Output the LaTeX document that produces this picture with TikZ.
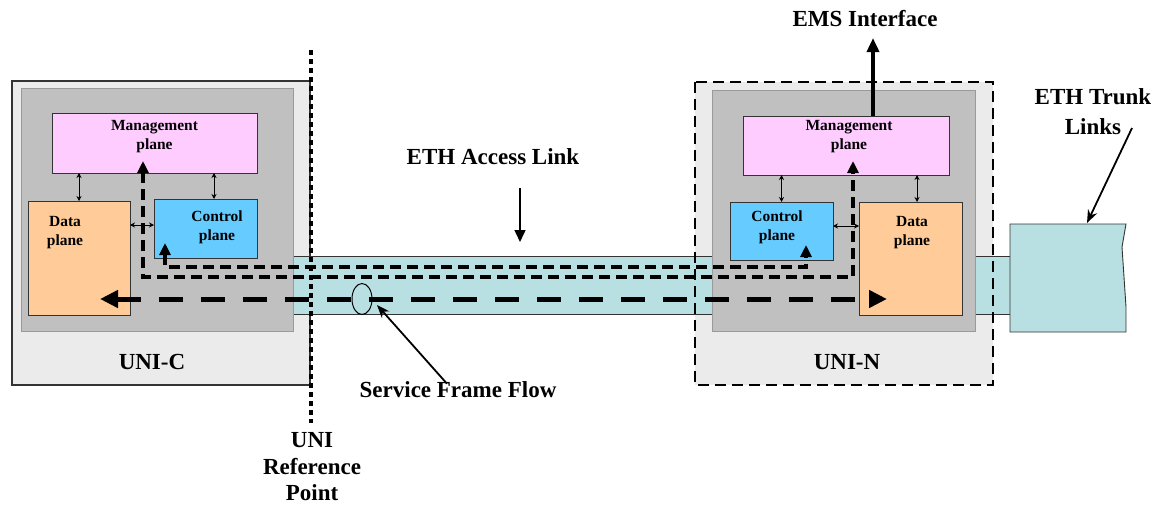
\documentclass[tikz,border=0pt]{standalone}
\usepackage{fontspec}
\setmainfont{Liberation Serif}
\usetikzlibrary{arrows.meta,shapes.geometric}
\definecolor{outerg}{HTML}{EBEBEB}
\definecolor{innerg}{HTML}{C0C0C0}
\definecolor{innerb}{HTML}{9A9A9A}
\definecolor{mgmt}{HTML}{FFCCFF}
\definecolor{datac}{HTML}{FFCC99}
\definecolor{ctrl}{HTML}{66CCFF}
\definecolor{tubec}{HTML}{B8E0E3}
\definecolor{edge}{HTML}{333333}
\begin{document}
\begin{tikzpicture}[x=1pt,y=-1pt,
  box/.style={rectangle, inner sep=0pt, outer sep=0pt, anchor=north west},
  plane/.style={box, draw=edge, line width=1pt},
  ingray/.style={box, fill=innerg, draw=innerb, line width=1pt},
  small/.style={font=\fontsize{15.5}{19}\selectfont\bfseries, align=center, inner sep=0pt},
  big/.style={font=\fontsize{23}{26.5}\selectfont\bfseries, align=center, inner sep=0pt},
  dbl/.style={line width=0.9pt, {Stealth[length=5pt,width=5pt]}-{Stealth[length=5pt,width=5pt]}},
  thinflow/.style={line width=3.2pt, dash pattern=on 11pt off 6pt, {Triangle[length=12pt,width=11pt]}-{Triangle[length=12pt,width=11pt]}},
  thickflow/.style={line width=5pt, dash pattern=on 24pt off 18pt, {Triangle[length=18pt,width=17pt]}-{Triangle[length=18pt,width=17pt]}},
  pointer/.style={line width=1.8pt, -{Stealth[length=13pt,width=10pt]}},
]
\useasboundingbox (0,0) rectangle (1159,506);
\fill[white] (0,0) rectangle (1159,506);

% outer boxes
\node[box, fill=outerg, draw=edge, line width=1.2pt, minimum width=298pt, minimum height=304pt] (uniC) at (12,81) {};
\node[box, fill=outerg, minimum width=298pt, minimum height=303pt] (uniN) at (695,82) {};

% tubes
\node[box, fill=tubec, draw=edge, line width=0.9pt, minimum width=419pt, minimum height=58pt] (tube) at (293,256) {};
\node[box, fill=tubec, draw=edge, line width=0.9pt, minimum width=35pt, minimum height=58pt] (tubeR) at (975,256) {};
\draw[fill=tubec, draw=edge, line width=0.9pt] (1010,224) -- (1126,224) -- (1122,247) -- (1126,307) -- (1126,332) -- (1010,332) -- cycle;

% inner gray boxes
\node[ingray, minimum width=272pt, minimum height=243pt] (inC) at (21,88) {};
\node[ingray, minimum width=263pt, minimum height=241pt] (inN) at (712,90) {};

% planes left
\node[plane, fill=mgmt, minimum width=205pt, minimum height=60pt] (mcL) at (52,113) {};
\node[plane, fill=datac, minimum width=102pt, minimum height=114pt] (dL) at (28,201) {};
\node[plane, fill=ctrl, minimum width=103pt, minimum height=59pt] (cL) at (154,199) {};
% planes right
\node[plane, fill=mgmt, minimum width=206pt, minimum height=59pt] (mcR) at (743,116) {};
\node[plane, fill=ctrl, minimum width=103pt, minimum height=58pt] (cR) at (730,202) {};
\node[plane, fill=datac, minimum width=103pt, minimum height=113pt] (dR) at (859,202) {};

% UNI-N dashed border
\draw[line width=2.8pt, dash pattern=on 11pt off 6pt] (uniN.north west) rectangle (uniN.south east);

% texts in boxes
\node[small] (mcLt) at (154.5,137) {Management\\plane};
\node[small] (dLt) at (65,233) {Data\\plane};
\node[small] (cLt) at (217,227) {Control\\plane};
\node[small] (mcRt) at (849,137) {Management\\plane};
\node[small] (cRt) at (777,227) {Control\\plane};
\node[small] (dRt) at (912,233) {Data\\plane};
\node[big] (uniCt) at (152,362) {UNI-C};
\node[big] (uniNt) at (847,362) {UNI-N};

% small double arrows
\draw[dbl] (mcL.south -| dL.north) -- (dL.north);
\draw[dbl] ([xshift=8.5pt]cL.north |- mcL.south) -- ([xshift=8.5pt]cL.north);
\draw[dbl] ([yshift=3.5pt]dL.east |- cL.west) -- ([yshift=3.5pt]cL.west);
\draw[dbl] (mcR.south -| cR.north) -- (cR.north);
\draw[dbl] ([xshift=6.5pt]dR.north |- mcR.south) -- ([xshift=6.5pt]dR.north);
\draw[dbl] ([yshift=5pt]cR.east) -- ([yshift=5pt]cR.east -| dR.west);

% flow paths
\coordinate (a1) at (143,161);
\coordinate (a2) at (853,161);
\coordinate (b1) at (165,243);
\coordinate (b2) at (806,245);
\draw[thinflow] (a1) -- (143,277) -- (853,277) -- (a2);
\draw[thinflow] (b1) -- (165,267) -- (806,267) -- (b2);
\coordinate (fl) at (100,299);
\coordinate (fr) at (887,299);
\draw[thickflow] (fl) -- (fr);

% ellipse on service flow
\node[draw, ellipse, line width=1pt, minimum width=20pt, minimum height=31pt, inner sep=0pt] (sffell) at (362,299) {};

% UNI reference dotted line
\coordinate (ref1) at (311,50);
\coordinate (ref2) at (311,423);
\draw[line width=4.5pt, dash pattern=on 5pt off 4pt] (ref1) -- (ref2);

% EMS
\node[big] (ems) at (865,19) {EMS Interface};
\draw[line width=3.5pt, -{Triangle[length=14pt,width=12pt]}] ([xshift=27pt]mcR.north) -- ([xshift=27pt]mcR.north |- 0,38);

% ETH access link
\node[big] (acc) at (493,157) {ETH Access Link};
\coordinate (acc1) at (520,188);
\coordinate (acc2) at (520,242);
\draw[line width=1.5pt, -{Triangle[length=12pt,width=11pt]}] (acc1) -- (acc2);

% ETH trunk links
\node[font=\fontsize{23}{30}\selectfont\bfseries, align=center, inner sep=0pt] (trunk) at (1093,112) {ETH Trunk\\Links};
\coordinate (tr1) at (1132,128);
\coordinate (tr2) at (1087,223);
\draw[pointer] (tr1) -- (tr2);

% Service frame flow
\node[big] (sfft) at (458,390) {Service Frame Flow};
\coordinate (sfftip) at (377,305);
\draw[pointer] ([xshift=-11pt,yshift=-2pt]sfft.north) -- (sfftip);

% UNI reference point
\node[big] (uniref) at (312,467) {UNI\\Reference\\Point};
\end{tikzpicture}
\end{document}
